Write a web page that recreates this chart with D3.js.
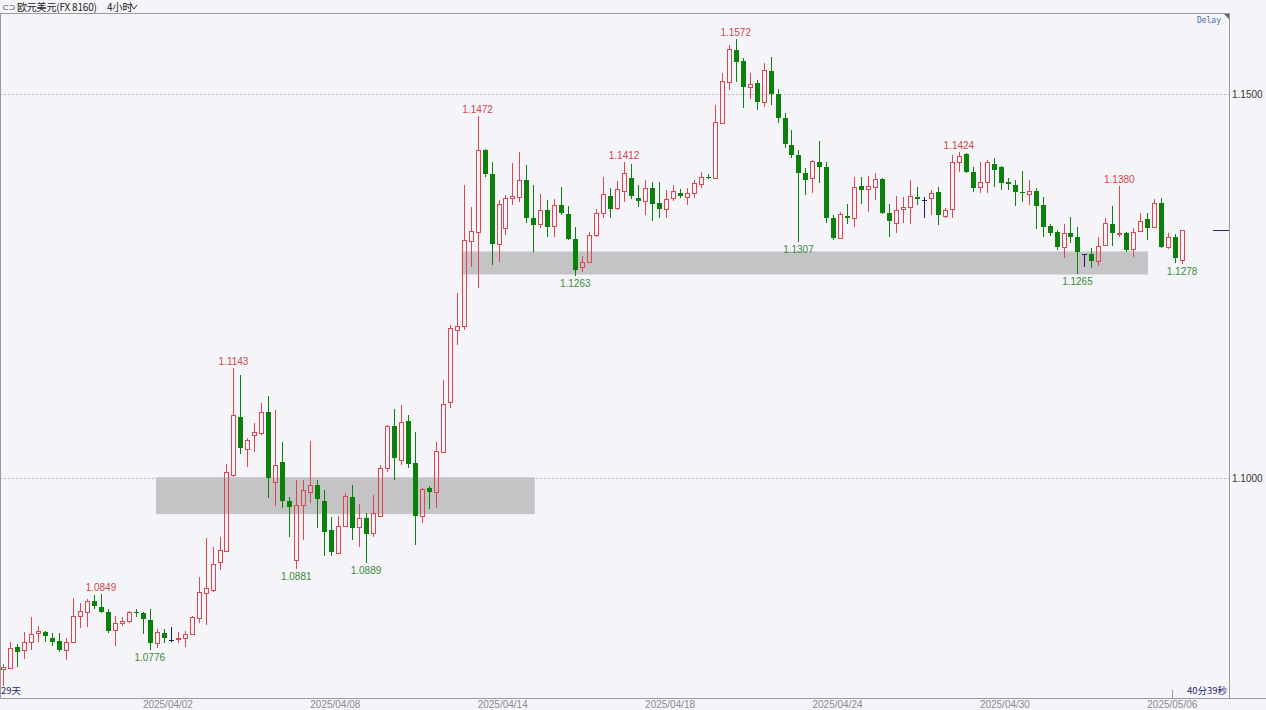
<!DOCTYPE html>
<html><head><meta charset="utf-8">
<script src="https://cdn.jsdelivr.net/npm/d3@7"></script>
<style>body{margin:0;background:#f5f5f9;overflow:hidden}svg{display:block}</style>
</head><body><svg id="c" width="1266" height="710"></svg>
<script>
const opens  = [1.0751,1.0753,1.0780,1.0776,1.0786,1.0798,1.0799,1.0792,1.0788,1.0776,1.0786,1.0820,1.0826,1.0840,1.0832,1.0826,1.0802,1.0811,1.0814,1.0826,1.0824,1.0815,1.0785,1.0798,1.0789,1.0790,1.0792,1.0797,1.0818,1.0850,1.0854,1.0891,1.0905,1.1004,1.1079,1.1038,1.1056,1.1059,1.1086,1.0995,1.1021,1.0970,1.0893,1.0965,1.0982,1.0991,1.0970,1.0932,1.0902,1.0938,1.0975,1.0936,1.0948,1.0928,1.0951,1.1013,1.1068,1.1023,1.1074,1.1020,1.0951,1.0987,1.0982,1.1034,1.1099,1.1193,1.1198,1.1309,1.1320,1.1427,1.1396,1.1305,1.1326,1.1365,1.1366,1.1388,1.1339,1.1331,1.1349,1.1328,1.1355,1.1344,1.1311,1.1275,1.1281,1.1316,1.1345,1.1367,1.1352,1.1374,1.1391,1.1365,1.1361,1.1378,1.1358,1.1350,1.1365,1.1371,1.1366,1.1371,1.1383,1.1392,1.1391,1.1462,1.1516,1.1557,1.1543,1.1509,1.1514,1.1490,1.1530,1.1500,1.1469,1.1434,1.1421,1.1397,1.1391,1.1411,1.1405,1.1339,1.1313,1.1341,1.1339,1.1380,1.1376,1.1379,1.1389,1.1345,1.1332,1.1350,1.1353,1.1366,1.1362,1.1365,1.1372,1.1341,1.1350,1.1411,1.1422,1.1398,1.1379,1.1385,1.1409,1.1405,1.1385,1.1382,1.1372,1.1370,1.1374,1.1355,1.1328,1.1320,1.1301,1.1319,1.1314,1.1292,1.1292,1.1283,1.1303,1.1331,1.1318,1.1319,1.1298,1.1322,1.1337,1.1327,1.1358,1.1301,1.1314,1.1284];
const highs  = [1.0758,1.0786,1.0784,1.0799,1.0819,1.0807,1.0801,1.0798,1.0798,1.0792,1.0844,1.0837,1.0842,1.0848,1.0849,1.0829,1.0820,1.0819,1.0827,1.0829,1.0826,1.0829,1.0803,1.0803,1.0806,1.0799,1.0801,1.0820,1.0871,1.0922,1.0910,1.0923,1.1018,1.1143,1.1134,1.1052,1.1072,1.1098,1.1107,1.1089,1.1047,1.0975,1.0997,1.0997,1.1048,1.0997,1.0984,1.0949,1.0951,1.0981,1.0991,1.0966,1.0954,1.0978,1.1017,1.1069,1.1090,1.1095,1.1082,1.1060,1.0987,1.0990,1.1047,1.1128,1.1199,1.1241,1.1382,1.1353,1.1472,1.1428,1.1411,1.1362,1.1368,1.1410,1.1424,1.1408,1.1382,1.1370,1.1362,1.1363,1.1379,1.1354,1.1327,1.1289,1.1320,1.1350,1.1392,1.1378,1.1387,1.1412,1.1409,1.1382,1.1388,1.1385,1.1385,1.1375,1.1382,1.1376,1.1378,1.1388,1.1398,1.1396,1.1486,1.1527,1.1564,1.1572,1.1547,1.1527,1.1518,1.1540,1.1548,1.1507,1.1475,1.1453,1.1427,1.1404,1.1414,1.1439,1.1411,1.1342,1.1346,1.1357,1.1392,1.1392,1.1393,1.1397,1.1391,1.1357,1.1367,1.1366,1.1388,1.1379,1.1366,1.1375,1.1379,1.1352,1.1421,1.1424,1.1423,1.1405,1.1411,1.1414,1.1417,1.1406,1.1391,1.1388,1.1400,1.1388,1.1378,1.1366,1.1331,1.1323,1.1331,1.1340,1.1327,1.1292,1.1299,1.1314,1.1339,1.1354,1.1380,1.1320,1.1326,1.1345,1.1345,1.1363,1.1365,1.1319,1.1318,1.1323];
const lows   = [1.0729,1.0752,1.0754,1.0764,1.0776,1.0786,1.0786,1.0781,1.0773,1.0763,1.0785,1.0805,1.0806,1.0829,1.0824,1.0798,1.0781,1.0807,1.0811,1.0819,1.0797,1.0776,1.0779,1.0785,1.0786,1.0785,1.0780,1.0796,1.0811,1.0809,1.0852,1.0880,1.0904,1.1001,1.1031,1.1014,1.1034,1.1056,1.0974,1.0964,1.0961,1.0923,1.0881,1.0919,1.0967,1.0935,1.0898,1.0898,1.0901,1.0936,1.0919,1.0910,1.0889,1.0923,1.0949,1.1008,1.0997,1.1017,1.1013,1.0913,1.0941,1.0960,1.0961,1.1033,1.1091,1.1173,1.1193,1.1275,1.1247,1.1392,1.1277,1.1281,1.1316,1.1355,1.1359,1.1332,1.1294,1.1326,1.1314,1.1314,1.1342,1.1310,1.1263,1.1268,1.1280,1.1314,1.1339,1.1339,1.1349,1.1359,1.1363,1.1353,1.1342,1.1335,1.1339,1.1339,1.1361,1.1365,1.1355,1.1365,1.1378,1.1389,1.1390,1.1461,1.1505,1.1516,1.1482,1.1493,1.1479,1.1483,1.1486,1.1462,1.1430,1.1417,1.1307,1.1368,1.1371,1.1384,1.1332,1.1310,1.1311,1.1331,1.1327,1.1357,1.1346,1.1362,1.1344,1.1314,1.1319,1.1332,1.1331,1.1355,1.1339,1.1342,1.1329,1.1339,1.1339,1.1398,1.1397,1.1372,1.1371,1.1371,1.1379,1.1375,1.1375,1.1354,1.1359,1.1355,1.1324,1.1314,1.1315,1.1297,1.1286,1.1306,1.1265,1.1275,1.1273,1.1276,1.1302,1.1302,1.1314,1.1294,1.1288,1.1321,1.1310,1.1326,1.1299,1.1298,1.1280,1.1278];
const closes = [1.0754,1.0779,1.0773,1.0786,1.0797,1.0801,1.0794,1.0786,1.0776,1.0786,1.0820,1.0827,1.0840,1.0833,1.0826,1.0801,1.0811,1.0814,1.0826,1.0824,1.0816,1.0785,1.0799,1.0792,1.0789,1.0792,1.0797,1.0819,1.0852,1.0857,1.0888,1.0906,1.1008,1.1082,1.1039,1.1049,1.1060,1.1086,1.1000,1.1017,1.0970,1.0962,1.0965,1.0984,1.0991,1.0973,1.0930,1.0904,1.0938,1.0977,1.0935,1.0948,1.0927,1.0954,1.1013,1.1068,1.1026,1.1073,1.1018,1.0951,1.0986,1.0982,1.1035,1.1096,1.1195,1.1198,1.1310,1.1322,1.1427,1.1396,1.1305,1.1357,1.1365,1.1367,1.1388,1.1339,1.1329,1.1349,1.1327,1.1355,1.1345,1.1311,1.1271,1.1281,1.1316,1.1345,1.1370,1.1350,1.1376,1.1397,1.1367,1.1361,1.1378,1.1357,1.1350,1.1363,1.1374,1.1367,1.1371,1.1384,1.1392,1.1391,1.1464,1.1517,1.1559,1.1542,1.1509,1.1513,1.1490,1.1531,1.1500,1.1469,1.1435,1.1421,1.1397,1.1388,1.1413,1.1405,1.1339,1.1313,1.1344,1.1339,1.1379,1.1375,1.1380,1.1389,1.1345,1.1335,1.1349,1.1353,1.1367,1.1363,1.1362,1.1371,1.1342,1.1349,1.1411,1.1419,1.1398,1.1378,1.1385,1.1411,1.1401,1.1384,1.1383,1.1372,1.1371,1.1374,1.1354,1.1327,1.1319,1.1301,1.1319,1.1314,1.1294,1.1292,1.1283,1.1302,1.1332,1.1319,1.1319,1.1297,1.1320,1.1335,1.1326,1.1358,1.1301,1.1314,1.1286,1.1323];

const dateLabels = ["2025/04/02","2025/04/08","2025/04/14","2025/04/18","2025/04/24","2025/04/30","2025/05/06"];
const dateBars   = [24,48,72,96,120,144,168];
const priceTicks = [1.15, 1.10];
const highMarkBars = [14,33,68,89,105,137,160];
const lowMarkBars  = [21,42,52,82,114,154,169];
const zoneFromBar = [21.9, 65.7];
const zoneToBar   = [76.2, 164.1];
const zoneTop     = [1.1001, 1.1295];
const zoneBottom  = [1.0953, 1.1265];

const N = opens.length;
const W = 1266, H = 710;
const plotR = 1229, plotT = 13, plotB = 698;
const svg = d3.select("#c");
svg.append("rect").attr("width",W).attr("height",H).attr("fill","#f5f5f9");

const x = d3.scaleLinear().domain([0, N-1]).range([3.3, 3.3 + 6.975*(N-1)]);
const y = d3.scaleLinear().domain([1.10, 1.15]).range([478, 94]);

const UP = "#dc4650", DOWN = "#0b800b", DOJI = "#1c1c5c";

// grid lines
svg.selectAll(".grid").data(priceTicks).enter().append("line")
  .attr("x1",0).attr("x2",plotR).attr("y1",d=>Math.round(y(d))+0.5).attr("y2",d=>Math.round(y(d))+0.5)
  .attr("stroke","#b8b8c0").attr("stroke-dasharray","2,2");

// zones
zoneTop.forEach((t,k)=>{
  svg.append("rect").attr("x",x(zoneFromBar[k])).attr("y",y(t))
    .attr("width",x(zoneToBar[k])-x(zoneFromBar[k])).attr("height",y(zoneBottom[k])-y(t))
    .attr("fill","#c4c4c6");
});

// candles
const g = svg.append("g");
for(let i=0;i<N;i++){
  const o=opens[i], c=closes[i], h=highs[i], l=lows[i];
  const cx=Math.round(x(i));
  const yt=Math.round(y(Math.max(o,c))), yb=Math.round(y(Math.min(o,c)));
  const yh=Math.round(y(h)), yl=Math.round(y(l));
  if(c>o){
    if(yh<yt) g.append("line").attr("x1",cx+0.5).attr("x2",cx+0.5).attr("y1",yh).attr("y2",yt).attr("stroke",UP);
    if(yl>yb) g.append("line").attr("x1",cx+0.5).attr("x2",cx+0.5).attr("y1",yb).attr("y2",yl).attr("stroke",UP);
    g.append("rect").attr("x",cx-1.5).attr("y",yt+0.5).attr("width",4).attr("height",Math.max(yb-yt,1))
      .attr("fill","none").attr("stroke",UP);
  } else if(c<o){
    g.append("line").attr("x1",cx+0.5).attr("x2",cx+0.5).attr("y1",yh).attr("y2",yl).attr("stroke",DOWN);
    g.append("rect").attr("x",cx-2).attr("y",yt).attr("width",5).attr("height",Math.max(yb-yt,1)).attr("fill",DOWN);
  } else {
    g.append("line").attr("x1",cx+0.5).attr("x2",cx+0.5).attr("y1",yh).attr("y2",yl).attr("stroke",DOJI);
    g.append("line").attr("x1",cx-2).attr("x2",cx+3).attr("y1",yt+0.5).attr("y2",yt+0.5).attr("stroke",DOJI);
  }
}

// high / low labels
const lblFont = "'Liberation Sans', Arial, sans-serif";
svg.selectAll(".hl").data(highMarkBars).enter().append("text")
  .attr("x",d=>x(d)).attr("y",d=>y(highs[d])-3).attr("text-anchor","middle")
  .attr("font-family",lblFont).attr("font-size",10).attr("fill","#d0454b")
  .text(d=>highs[d].toFixed(4));
svg.selectAll(".ll").data(lowMarkBars).enter().append("text")
  .attr("x",d=>x(d)).attr("y",d=>y(lows[d])+11).attr("text-anchor","middle")
  .attr("font-family",lblFont).attr("font-size",10).attr("fill","#3a8a3a")
  .text(d=>lows[d].toFixed(4));

// frame
svg.append("line").attr("x1",0).attr("x2",plotR).attr("y1",plotT+0.5).attr("y2",plotT+0.5).attr("stroke","#9a9aa0");
svg.append("line").attr("x1",plotR+0.5).attr("x2",plotR+0.5).attr("y1",plotT).attr("y2",plotB).attr("stroke","#9a9aa0");
svg.append("line").attr("x1",0).attr("x2",W).attr("y1",plotB+0.5).attr("y2",plotB+0.5).attr("stroke","#9a9aa0");
svg.append("line").attr("x1",0.5).attr("x2",0.5).attr("y1",plotT).attr("y2",plotB).attr("stroke","#9a9aa0");
svg.append("path").attr("d",`M${plotR-5},${plotT+1}L${plotR},${plotT+1}L${plotR},${plotT+6}Z`).attr("fill","#666");

// right axis labels
svg.selectAll(".yl").data(priceTicks).enter().append("text")
  .attr("x",1232).attr("y",d=>y(d)+3.5).attr("font-family",lblFont).attr("font-size",10).attr("fill","#333")
  .text(d=>d.toFixed(4));
// current price marker
svg.append("line").attr("x1",1213).attr("x2",plotR).attr("y1",Math.round(y(closes[N-1]))+0.5).attr("y2",Math.round(y(closes[N-1]))+0.5)
  .attr("stroke","#2a2a80");

// date labels
svg.selectAll(".dl").data(dateBars).enter().append("text")
  .attr("x",(d)=>x(d-0.4)).attr("y",708).attr("text-anchor","middle")
  .attr("font-family",lblFont).attr("font-size",10).attr("fill","#8a8a8a")
  .text((d,k)=>dateLabels[k]);
svg.append("line").attr("x1",Math.round(x(dateBars[dateBars.length-1]-0.4))+0.5).attr("x2",Math.round(x(dateBars[dateBars.length-1]-0.4))+0.5)
  .attr("y1",690).attr("y2",plotB).attr("stroke","#999");

// misc texts
const cjk = "'Noto Sans CJK SC', sans-serif";
svg.append("text").attr("x",1).attr("y",694).attr("font-family",cjk).attr("font-size",9.5).attr("fill","#1c2a6e").text("29天");
svg.append("text").attr("x",1227).attr("y",694).attr("text-anchor","end").attr("font-family",cjk).attr("font-size",9.5).attr("fill","#1c2a6e").text("40分39秒");
svg.append("text").attr("x",1221).attr("y",23).attr("text-anchor","end").attr("font-family","'DejaVu Sans Mono', monospace").attr("font-size",8).attr("fill","#4a6f9f").text("Delay");

// title
svg.append("text").attr("x",2).attr("y",10).attr("font-family","'DejaVu Sans', sans-serif").attr("font-size",8).attr("fill","#333").text("⊂⊃");
svg.append("text").attr("x",17).attr("y",11).attr("font-family",cjk).attr("font-size",10).attr("fill","#222")
  .attr("textLength",80).text("欧元美元(FX 8160)");
svg.append("text").attr("x",107).attr("y",11).attr("font-family",cjk).attr("font-size",10).attr("fill","#222").text("4小时");
svg.append("path").attr("d","M131,5L134,9L137,5").attr("fill","none").attr("stroke","#333");
</script></body></html>
